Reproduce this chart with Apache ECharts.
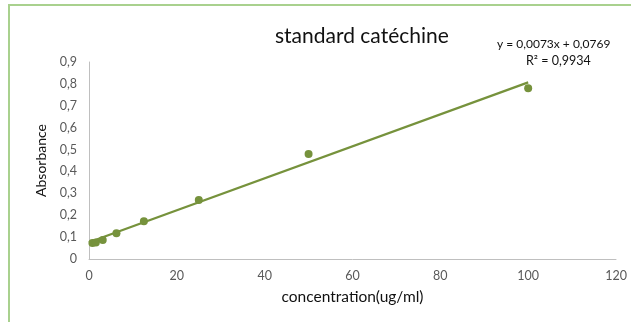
<!DOCTYPE html>
<html><head><meta charset="utf-8">
<script src="https://cdn.jsdelivr.net/npm/echarts@6/dist/echarts.min.js"></script>
<style>html,body{margin:0;padding:0;background:#fff}#c{width:631px;height:322px}</style>
</head><body><div id="c"></div>
<script>
var concentration = [0.78, 1.56, 3.125, 6.25, 12.5, 25, 50, 100];
var absorbance = [0.073, 0.075, 0.087, 0.118, 0.172, 0.270, 0.480, 0.780];
var trendX = [0, 100];
var trendY = [0.0769, 0.8069];
var xTicks = [0, 20, 40, 60, 80, 100, 120];
var yTicks = [0, 0.1, 0.2, 0.3, 0.4, 0.5, 0.6, 0.7, 0.8, 0.9];
var titleText = 'standard catéchine';
var eqText = 'y = 0,0073x + 0,0769';
var r2Text = 'R² = 0,9934';

var font = 'Lato, "Open Sans", sans-serif';
var chart = echarts.init(document.getElementById('c'));
var fmt = function(v){ return String(Math.round(v*10)/10).replace('.', ','); };
chart.setOption({
  animation: false,
  textStyle: {fontFamily: font},
  graphic: [
    {type: 'rect', shape: {x: 9, y: 5, width: 640, height: 340}, style: {fill: 'none', stroke: '#a9d18e', lineWidth: 2}, z: 0},
    {type: 'text', left: 275, top: 26, style: {text: titleText, font: '21px ' + font, fill: '#111'}},
    {type: 'text', left: 497, top: 38, style: {text: eqText, font: '12px ' + font, fill: '#111'}},
    {type: 'text', left: 526, top: 54, style: {text: r2Text, font: '12.5px ' + font, fill: '#111'}}
  ],
  grid: {left: 89, right: 15, top: 62, bottom: 63},
  xAxis: {
    type: 'value', min: 0, max: 120, interval: 20,
    name: 'concentration(ug/ml)', nameLocation: 'middle', nameGap: 30,
    nameTextStyle: {fontSize: 15.5, color: '#111', fontFamily: font},
    axisLine: {show: true, lineStyle: {color: '#bfbfbf', width: 1}},
    axisTick: {show: false}, splitLine: {show: false},
    axisLabel: {color: '#595959', fontSize: 12.5, fontFamily: font, margin: 10,
      formatter: function(v){ return xTicks.indexOf(v) >= 0 ? String(v) : ''; }}
  },
  yAxis: {
    type: 'value', min: 0, max: 0.9, interval: 0.1,
    name: 'Absorbance', nameLocation: 'middle', nameGap: 41, nameRotate: 90,
    nameTextStyle: {fontSize: 14, color: '#111', fontFamily: font},
    axisLine: {show: true, lineStyle: {color: '#bfbfbf', width: 1}},
    axisTick: {show: false}, splitLine: {show: false},
    axisLabel: {color: '#595959', fontSize: 12.5, fontFamily: font, margin: 12,
      formatter: function(v){ return fmt(v); }}
  },
  series: [
    {type: 'line', data: trendX.map(function(x, i){ return [x, trendY[i]]; }),
      showSymbol: false, symbol: 'none', lineStyle: {color: '#76923c', width: 2.2}, z: 2},
    {type: 'scatter', data: concentration.map(function(x, i){ return [x, absorbance[i]]; }),
      symbol: 'circle', symbolSize: 8, itemStyle: {color: '#76923c', opacity: 1}, z: 3}
  ]
});
</script></body></html>
